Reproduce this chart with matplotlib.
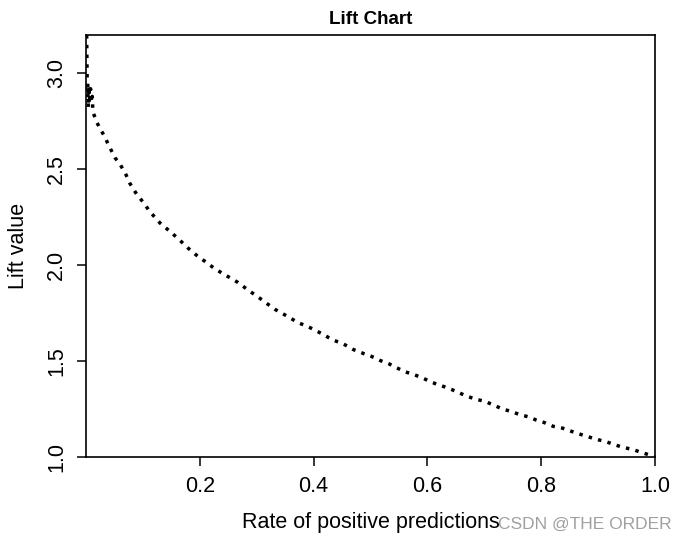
import matplotlib
matplotlib.use("Agg")
import matplotlib.pyplot as plt

# lift curve (rate of positive predictions, lift)
rate = [0.0010, 0.0015, 0.0020, 0.0025, 0.0030, 0.0040, 0.0050, 0.0060, 0.0080,
        0.0100, 0.0110, 0.0120, 0.0190, 0.0250, 0.0330, 0.0390, 0.0450, 0.0510,
        0.0600, 0.0690, 0.0770, 0.0890, 0.1000, 0.1120, 0.1300, 0.1480, 0.1650,
        0.1790, 0.1970, 0.2090, 0.2270, 0.2470, 0.2670, 0.2850, 0.3020, 0.3180,
        0.3320, 0.3530, 0.3730, 0.3900, 0.4130, 0.4340, 0.4520, 0.4700, 0.4890,
        0.5020, 0.5170, 0.5330, 0.5460, 0.5610, 0.5780, 0.5930, 0.6050, 0.6160,
        0.6310, 0.6440, 0.6570, 0.6710, 0.6870, 0.7010, 0.7170, 0.7320, 0.7480,
        0.7630, 0.7770, 0.7910, 0.8050, 0.8210, 0.8380, 0.8520, 0.8670, 0.8830,
        0.9000, 0.9140, 0.9280, 0.9440, 0.9600, 0.9750, 0.9910, 1.0000]
lift = [3.25, 3.10, 2.98, 2.90, 2.95, 2.82, 2.93, 2.86, 2.92,
        2.85, 2.88, 2.80, 2.745, 2.71, 2.67, 2.63, 2.595, 2.56,
        2.525, 2.48, 2.427, 2.37, 2.33, 2.28, 2.22, 2.175, 2.13,
        2.09, 2.045, 2.02, 1.98, 1.945, 1.91, 1.87, 1.835, 1.80,
        1.77, 1.735, 1.70, 1.68, 1.645, 1.61, 1.59, 1.56, 1.538,
        1.524, 1.503, 1.485, 1.465, 1.444, 1.428, 1.41, 1.393, 1.38,
        1.365, 1.35, 1.333, 1.315, 1.30, 1.29, 1.27, 1.25, 1.237,
        1.22, 1.21, 1.193, 1.18, 1.16, 1.15, 1.135, 1.12, 1.105,
        1.09, 1.08, 1.065, 1.05, 1.04, 1.025, 1.01, 1.0]

xticks = [0.2, 0.4, 0.6, 0.8, 1.0]
yticks = [1.0, 1.5, 2.0, 2.5, 3.0]

plt.rcParams['font.family'] = ['Liberation Sans', 'DejaVu Sans']

fig = plt.figure(figsize=(6.86, 5.41), dpi=100)
ax = fig.add_axes([86/686, 1-457/541, (655-86)/686, (457-35)/541])

ax.plot(rate, lift, color="black", lw=2.5, linestyle=(0, (1, 1.8)))

ax.set_xlim(0, 1.0)
ax.set_ylim(1.0, 3.2)
ax.set_xticks(xticks)
ax.set_xticklabels([f"{t:.1f}" for t in xticks])
ax.set_yticks(yticks)
ax.set_yticklabels([f"{t:.1f}" for t in yticks], rotation=90, va="center")

for s in ax.spines.values():
    s.set_linewidth(1.2)
ax.tick_params(direction="out", length=6.5, width=1.1, labelsize=15.5, pad=7)
ax.tick_params(axis="y", pad=7)

ax.set_title("Lift Chart", fontsize=13.5, fontweight="bold", pad=8)
ax.set_xlabel("Rate of positive predictions", fontsize=15.5)
ax.set_ylabel("Lift value", fontsize=15.5)
ax.xaxis.set_label_coords(0.5, -0.131)
ax.yaxis.set_label_coords(-0.100, 0.5)

fig.text(672/686, 1-529/541, "CSDN @THE ORDER", color="#a0a0a0",
         fontsize=12.5, ha="right", va="baseline")

fig.savefig("out.png", dpi=100)
